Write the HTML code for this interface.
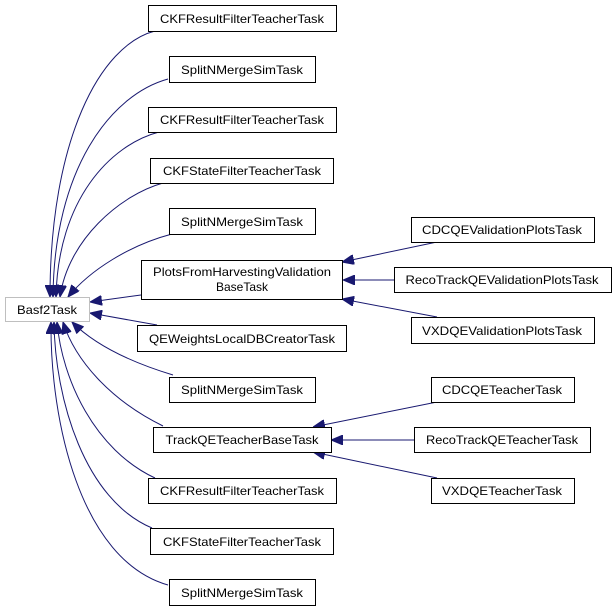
<!DOCTYPE html>
<html><head><meta charset="utf-8"><style>
html,body{margin:0;padding:0;background:#fff;}
svg{display:block;}
text{font-family:"Liberation Sans",Arial,sans-serif;font-size:12px;fill:#000;}
</style></head><body>
<svg width="616" height="611" viewBox="0 0 616 611" xmlns="http://www.w3.org/2000/svg">
<defs>
<marker id="a" markerUnits="userSpaceOnUse" markerWidth="12" markerHeight="10" refX="12" refY="5" orient="auto">
<path d="M0,0 L12,5 L0,10 z" fill="#191970" stroke="#191970"/>
</marker>
</defs>
<g fill="none" stroke="#191970" stroke-width="1" marker-end="url(#a)">
<path d="M155,31 C100,45 50,140 50,297"/>
<path d="M168,79 C110,95 54,170 53,297"/>
<path d="M159,132 C110,145 58,200 56,297"/>
<path d="M163,183 C120,195 68,240 60,297"/>
<path d="M172,234 C130,245 90,270 68,297"/>
<path d="M141,295 L90,302"/>
<path d="M157,325 L90,313"/>
<path d="M173,375 C130,362 95,345 72,322"/>
<path d="M163,426 C110,400 75,360 63,322"/>
<path d="M155,478 C95,450 62,380 57,322"/>
<path d="M152,528 C85,500 55,400 54,322"/>
<path d="M168,585 C80,560 50,420 51,322"/>
<path d="M437,242 L342,262"/>
<path d="M394,280 L343,280"/>
<path d="M437,317 L342,299"/>
<path d="M437,402 L313,427"/>
<path d="M414,440 L331,440"/>
<path d="M437,478 L313,452"/>
</g>
<g fill="#fff" stroke="#000" stroke-width="1">
<rect x="148.5" y="5.5" width="188" height="26"/>
<rect x="169.5" y="56.5" width="146" height="26"/>
<rect x="148.5" y="107.5" width="188" height="25"/>
<rect x="150.5" y="158.5" width="183" height="25"/>
<rect x="169.5" y="208.5" width="146" height="26"/>
<rect x="141.5" y="260.5" width="201" height="39"/>
<rect x="137.5" y="325.5" width="209" height="26"/>
<rect x="169.5" y="377.5" width="146" height="25"/>
<rect x="153.5" y="427.5" width="178" height="25"/>
<rect x="148.5" y="478.5" width="188" height="25"/>
<rect x="150.5" y="528.5" width="183" height="26"/>
<rect x="169.5" y="579.5" width="146" height="26"/>
<rect x="411.5" y="217.5" width="183" height="25"/>
<rect x="394.5" y="267.5" width="217" height="25"/>
<rect x="411.5" y="317.5" width="183" height="26"/>
<rect x="431.5" y="377.5" width="143" height="25"/>
<rect x="414.5" y="427.5" width="176" height="25"/>
<rect x="431.5" y="478.5" width="143" height="25"/>
<rect x="5.5" y="297.5" width="84" height="24" stroke="#bfbfbf"/>
</g>
<g text-anchor="middle">
<text x="242" y="23" textLength="164" lengthAdjust="spacingAndGlyphs">CKFResultFilterTeacherTask</text>
<text x="242" y="74" textLength="122" lengthAdjust="spacingAndGlyphs">SplitNMergeSimTask</text>
<text x="242" y="124" textLength="164" lengthAdjust="spacingAndGlyphs">CKFResultFilterTeacherTask</text>
<text x="242" y="175" textLength="158" lengthAdjust="spacingAndGlyphs">CKFStateFilterTeacherTask</text>
<text x="242" y="226" textLength="122" lengthAdjust="spacingAndGlyphs">SplitNMergeSimTask</text>
<text x="242" y="276" textLength="178" lengthAdjust="spacingAndGlyphs">PlotsFromHarvestingValidation</text>
<text x="242" y="291">BaseTask</text>
<text x="242" y="343" textLength="186" lengthAdjust="spacingAndGlyphs">QEWeightsLocalDBCreatorTask</text>
<text x="242" y="394" textLength="122" lengthAdjust="spacingAndGlyphs">SplitNMergeSimTask</text>
<text x="242" y="444" textLength="153" lengthAdjust="spacingAndGlyphs">TrackQETeacherBaseTask</text>
<text x="242" y="495" textLength="164" lengthAdjust="spacingAndGlyphs">CKFResultFilterTeacherTask</text>
<text x="242" y="546" textLength="158" lengthAdjust="spacingAndGlyphs">CKFStateFilterTeacherTask</text>
<text x="242" y="597" textLength="122" lengthAdjust="spacingAndGlyphs">SplitNMergeSimTask</text>
<text x="502" y="234" textLength="160" lengthAdjust="spacingAndGlyphs">CDCQEValidationPlotsTask</text>
<text x="502" y="284" textLength="193" lengthAdjust="spacingAndGlyphs">RecoTrackQEValidationPlotsTask</text>
<text x="502" y="335" textLength="160" lengthAdjust="spacingAndGlyphs">VXDQEValidationPlotsTask</text>
<text x="502" y="394" textLength="120" lengthAdjust="spacingAndGlyphs">CDCQETeacherTask</text>
<text x="502" y="444" textLength="152" lengthAdjust="spacingAndGlyphs">RecoTrackQETeacherTask</text>
<text x="502" y="495" textLength="120" lengthAdjust="spacingAndGlyphs">VXDQETeacherTask</text>
<text x="47" y="314" textLength="60" lengthAdjust="spacingAndGlyphs">Basf2Task</text>
</g>
</svg>
</body></html>
